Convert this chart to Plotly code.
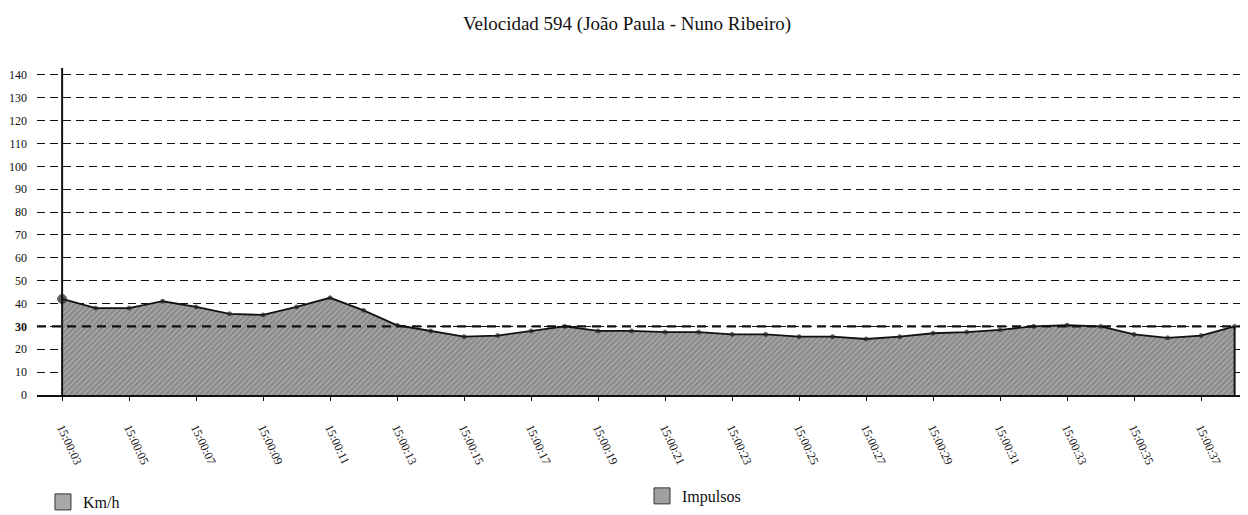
import plotly.graph_objects as go

# ---- data ----
tick_labels = ["15:00:03", "15:00:05", "15:00:07", "15:00:09", "15:00:11", "15:00:13",
               "15:00:15", "15:00:17", "15:00:19", "15:00:21", "15:00:23", "15:00:25",
               "15:00:27", "15:00:29", "15:00:31", "15:00:33", "15:00:35", "15:00:37"]
seconds = list(range(36))  # 15:00:03 ... 15:00:38
kmh = [42, 38, 38, 41, 38.5, 35.5, 35, 38.5, 42.5, 37, 30.5, 28, 25.5, 26, 28, 30,
       28, 28, 27.5, 27.5, 26.5, 26.5, 25.5, 25.5, 24.5, 25.5, 27, 27.5, 28.5, 30,
       30.5, 30, 26.5, 25, 26, 30]
impulsos_ref = 30
y_ticks = list(range(0, 150, 10))

SERIF = "Liberation Serif, Times New Roman, serif"

fig = go.Figure()

sizes = [9] + [4] * (len(kmh) - 1)
fig.add_trace(go.Scatter(
    x=seconds, y=kmh, mode="lines+markers", fill="tozeroy",
    line=dict(color="#111111", width=1.8),
    marker=dict(size=sizes, color="#222222", line=dict(color="#222222", width=1)),
    fillcolor="#999999",
    fillpattern=dict(shape="/", size=4, solidity=0.35, bgcolor="#8a8a8a", fgcolor="#d2d2d2"),
    showlegend=False, hoverinfo="skip"))

# legend-only entries
fig.add_trace(go.Scatter(
    x=[None], y=[None], mode="markers", name="Km/h",
    marker=dict(symbol="square", size=16, color="#a8a8a8", line=dict(color="#333333", width=1)),
    legend="legend"))
fig.add_trace(go.Scatter(
    x=[None], y=[None], mode="markers", name="Impulsos",
    marker=dict(symbol="square", size=16, color="#a0a0a0", line=dict(color="#333333", width=1)),
    legend="legend2"))

# right edge of area, y-axis line, highlighted 30 line
fig.add_shape(type="line", xref="x", yref="y", x0=seconds[-1], x1=seconds[-1], y0=0, y1=kmh[-1],
              line=dict(color="#111111", width=2))
fig.add_shape(type="line", xref="x", yref="y", x0=seconds[0], x1=seconds[0], y0=0, y1=143,
              line=dict(color="#111111", width=2))
fig.add_shape(type="line", xref="paper", yref="y", x0=0, x1=1, y0=impulsos_ref, y1=impulsos_ref,
              line=dict(color="#111111", width=2.2, dash="9px,6px"), layer="above")

ticktext = [("<b>%d</b>" % v) if v == 30 else str(v) for v in y_ticks]

# page body has an 8px margin, so the figure is 1240x507 placed at (8, 8)
fig.update_layout(
    width=1240, height=507,
    margin=dict(l=29, r=0, t=60, b=120, autoexpand=False),
    paper_bgcolor="white", plot_bgcolor="white",
    font=dict(family=SERIF, color="#111111", size=12),
    title=dict(text="Velocidad 594 (João Paula - Nuno Ribeiro)", x=0.4992, xref="container",
               xanchor="center", y=0.970, yref="container", yanchor="middle",
               font=dict(family=SERIF, size=19, color="#111111")),
    xaxis=dict(range=[-0.75, 35.4], tickvals=seconds[::2], ticktext=tick_labels,
               tickangle=65, showgrid=False, zeroline=False, automargin=False,
               showline=True, linecolor="#111111", linewidth=2,
               ticks="outside", ticklen=4, tickcolor="#111111", ticklabelstandoff=15,
               tickfont=dict(family=SERIF, size=12)),
    yaxis=dict(range=[0, 143], tickvals=y_ticks, ticktext=ticktext, automargin=False,
               showgrid=True, gridcolor="#111111", gridwidth=1.1, griddash="8px,5px",
               zeroline=False, showline=False, ticks="", ticklabelstandoff=9,
               tickfont=dict(family=SERIF, size=12)),
    legend=dict(x=0.0282, y=0.0256, xref="container", yref="container",
                xanchor="left", yanchor="middle",
                font=dict(family=SERIF, size=16), bgcolor="rgba(0,0,0,0)"),
    legend2=dict(x=0.5113, y=0.0375, xref="container", yref="container",
                 xanchor="left", yanchor="middle",
                 font=dict(family=SERIF, size=16), bgcolor="rgba(0,0,0,0)"),
)

fig.write_html("out.html")
